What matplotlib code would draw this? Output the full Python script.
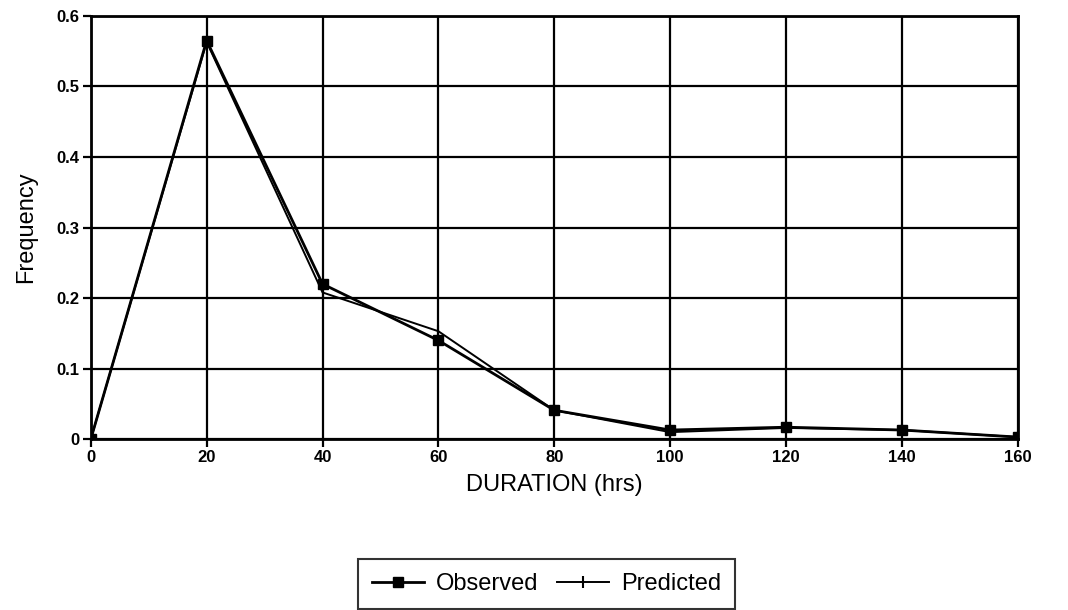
import matplotlib
matplotlib.use('Agg')
import matplotlib.pyplot as plt

plt.rcParams['font.family'] = ['Liberation Sans', 'DejaVu Sans']

duration = [0, 20, 40, 60, 80, 100, 120, 140, 160]
observed = [0.0, 0.565, 0.220, 0.140, 0.041, 0.013, 0.017, 0.013, 0.003]
predicted = [0.0, 0.563, 0.208, 0.153, 0.041, 0.010, 0.016, 0.013, 0.003]
y_ticks = [0, 0.1, 0.2, 0.3, 0.4, 0.5, 0.6]
y_labels = ['0', '0.1', '0.2', '0.3', '0.4', '0.5', '0.6']

fig = plt.figure(figsize=(10.68, 6.10), dpi=100)
ax = fig.add_axes([0.085, 0.28, 0.868, 0.694])

ax.plot(duration, observed, color='black', lw=2.0, marker='s', ms=7,
        label='Observed')
ax.plot(duration, predicted, color='black', lw=1.4, marker='|', ms=9,
        mew=1.5, label='Predicted')

ax.set_xlim(0, 160)
ax.set_ylim(0, 0.6)
ax.set_xticks(duration)
ax.set_yticks(y_ticks)
ax.set_yticklabels(y_labels)
ax.grid(True, color='black', lw=1.6)
ax.tick_params(labelsize=12, length=6, width=1.6, direction='out', pad=2)
for lbl in ax.get_xticklabels() + ax.get_yticklabels():
    lbl.set_fontweight('bold')
for s in ax.spines.values():
    s.set_linewidth(2.0)

ax.set_xlabel('DURATION (hrs)', fontsize=17, labelpad=6)
ax.set_ylabel('Frequency', fontsize=17, labelpad=14)

leg = fig.legend(loc='upper center', bbox_to_anchor=(0.512, 0.084), ncol=2,
                 fontsize=17, frameon=True, fancybox=False, handlelength=2.2,
                 columnspacing=0.8, handletextpad=0.5, borderpad=0.6,
                 borderaxespad=0)
leg.get_frame().set_edgecolor('black')
leg.get_frame().set_linewidth(1.5)

fig.savefig('out.png', dpi=100)
